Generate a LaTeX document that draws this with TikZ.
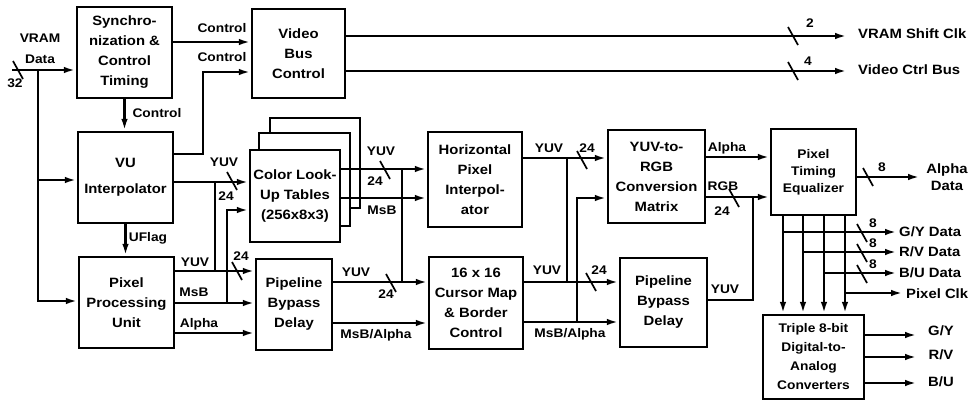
\documentclass[tikz,border=0pt]{standalone}
\usepackage{fontspec}
\setmainfont[FakeStretch=1.1]{Liberation Sans}
\usetikzlibrary{arrows.meta}
\begin{document}
\begin{tikzpicture}[x=1pt,y=-1pt,
  box/.style={draw,line width=2.5pt,fill=white,align=center,inner sep=0pt,
    font=\bfseries\fontsize{13.5}{20}\selectfont},
  lab/.style={font=\bfseries\fontsize{12.5}{14}\selectfont,inner sep=0pt},
  olab/.style={font=\bfseries\fontsize{13.5}{16}\selectfont,inner sep=0pt,anchor=west},
  ln/.style={line width=2.4pt},
  arr/.style={ln,-{Latex[length=12pt,width=6.5pt]}},
  sl/.style={line width=1.7pt}]
\useasboundingbox (0,0) rectangle (969,402);
\newcommand\bsl[1]{\draw[sl] (#1) ++(-5,-9) -- ++(10,18);}

% ---------- boxes ----------
\node[box,minimum width=95pt,minimum height=91pt] (sync) at (124.5,52.5) {Synchro-\\nization \&\\Control\\Timing};
\node[box,minimum width=93pt,minimum height=89pt] (vbc) at (298.5,53.5) {Video\\Bus\\Control};
\node[box,minimum width=95pt,minimum height=91pt] (vu) at (125.5,177.5) {VU\\[6pt]Interpolator};
\node[box,minimum width=95pt,minimum height=91pt] (ppu) at (126.5,302.5) {Pixel\\Processing\\Unit};
\draw[line width=2.5pt,fill=white] (270,118) rectangle (360,208);
\draw[line width=2.5pt,fill=white] (259,133) rectangle (350,226);
\node[box,minimum width=90pt,minimum height=92pt] (lut) at (295,196) {Color Look-\\Up Tables\\(256x8x3)};
\node[box,minimum width=76pt,minimum height=91pt] (pbd1) at (294,304.5) {Pipeline\\Bypass\\Delay};
\node[box,minimum width=94pt,minimum height=95pt] (hpi) at (475,179.5) {Horizontal\\Pixel\\Interpol-\\ator};
\node[box,minimum width=94pt,minimum height=92pt] (cur) at (476,303) {16 x 16\\Cursor Map\\\& Border\\Control};
\node[box,minimum width=97pt,minimum height=93pt] (rgb) at (656.5,176.5) {YUV-to-\\RGB\\Conversion\\Matrix};
\node[box,minimum width=87pt,minimum height=89pt] (pbd2) at (663.5,302.5) {Pipeline\\Bypass\\Delay};
\node[box,minimum width=85pt,minimum height=86pt,font=\bfseries\fontsize{12.5}{17}\selectfont] (pte) at (813.5,172) {Pixel\\Timing\\Equalizer};
\node[box,minimum width=101pt,minimum height=84pt,font=\bfseries\fontsize{12.5}{19}\selectfont] (dac) at (813.5,357) {Triple 8-bit\\Digital-to-\\Analog\\Converters};

% ---------- VRAM data input ----------
\coordinate (vin) at (12,70);
\coordinate (jv) at (38,70);
\coordinate (jv2) at (38,180);
\draw[arr] (vin) -- (sync.west |- vin);
\draw[arr] (jv) |- (ppu.west |- 0,301);
\draw[arr] (jv2) -- (vu.west |- jv2);
\bsl{18,70}
\node[lab] (lvram) at (40,38) {VRAM};
\node[lab] (ldata) at (40,59) {Data};
\node[lab] (l32) at (15,83) {32};

% ---------- control ----------
\draw[arr] (sync.east |- 0,42) -- (vbc.west |- 0,42);
\node[lab] (lc1) at (222,28) {Control};
\coordinate (c2) at (203,72);
\draw[arr] (vu.east |- 0,154) -| (c2) -- (vbc.west |- c2);
\node[lab] (lc2) at (222,57) {Control};
\draw[arr] (sync.south) -- (sync.south |- vu.north);
\node[lab] (lc3) at (157,113) {Control};

% ---------- video bus outputs ----------
\coordinate (o1) at (847,36);
\coordinate (o2) at (847,71);
\draw[arr] (vbc.east |- o1) -- (o1);
\draw[arr] (vbc.east |- o2) -- (o2);
\bsl{793,36}
\bsl{793,71}
\node[lab] (l2) at (810,23) {2};
\node[lab] (l4) at (808,61) {4};
\node[olab] (lvsc) at (858,34) {VRAM Shift Clk};
\node[olab] (lvcb) at (858,70) {Video Ctrl Bus};

% ---------- VU / PPU to LUT and bypass ----------
\draw[arr] (vu.east |- 0,182) -- (lut.west |- 0,182);
\bsl{232,181}
\node[lab] (ly1) at (224,162) {YUV};
\node[lab] (l241) at (226,196) {24};
\node[lab] (luf) at (148,238) {UFlag};
\draw[arr] (vu.south) -- (vu.south |- ppu.north);

\coordinate (j3a) at (215,271);
\coordinate (j3b) at (215,182);
\draw[arr] (ppu.east |- j3a) -- (pbd1.west |- j3a);
\draw[ln] (j3a) -- (j3b);
\node[lab] (ly2) at (195,262) {YUV};
\bsl{237,271}
\node[lab] (l242) at (241,256) {24};

\coordinate (jm) at (227,303);
\draw[arr] (ppu.east |- jm) -- (pbd1.west |- jm);
\draw[arr] (jm) |- (lut.west |- 0,210);
\node[lab] (lmsb1) at (194,292) {MsB};
\draw[arr] (ppu.east |- 0,333) -- (pbd1.west |- 0,333);
\node[lab] (lal1) at (199,324) {Alpha};

% ---------- LUT outputs ----------
\draw[arr] (lut.east |- 0,169) -- (hpi.west |- 0,169);
\bsl{385,170}
\node[lab] (ly3) at (381,151) {YUV};
\node[lab] (l243) at (375,181) {24};
\draw[arr] (lut.east |- 0,198) -- (hpi.west |- 0,198);
\node[lab] (lmsb2) at (382,210) {MsB};
\coordinate (j4a) at (402,169);
\coordinate (j4b) at (402,282);
\draw[ln] (j4a) -- (j4b);

% ---------- bypass 1 outputs ----------
\draw[arr] (pbd1.east |- j4b) -- (cur.west |- j4b);
\bsl{391,283}
\node[lab] (ly4) at (356,272) {YUV};
\node[lab] (l244) at (386,294) {24};
\draw[arr] (pbd1.east |- 0,323) -- (cur.west |- 0,323);
\node[lab] (lma1) at (376,335) {MsB/Alpha};

% ---------- HPI / cursor outputs ----------
\draw[arr] (hpi.east |- 0,158) -- (rgb.west |- 0,158);
\bsl{582,160}
\node[lab] (ly5) at (549,148) {YUV};
\node[lab] (l245) at (587,148) {24};
\coordinate (j5a) at (567,158);
\coordinate (j5b) at (567,282);
\draw[ln] (j5a) -- (j5b);
\draw[arr] (cur.east |- j5b) -- (pbd2.west |- j5b);
\node[lab] (ly6) at (547,270) {YUV};
\bsl{591,282}
\node[lab] (l246) at (599,270) {24};
\coordinate (j6) at (577,322);
\draw[arr] (cur.east |- j6) -- (pbd2.west |- j6);
\draw[arr] (j6) |- (rgb.west |- 0,198);
\node[lab] (lma2) at (570,334) {MsB/Alpha};

% ---------- RGB matrix outputs ----------
\draw[arr] (rgb.east |- 0,157) -- (pte.west |- 0,157);
\node[lab] (lal2) at (727,148) {Alpha};
\coordinate (j7) at (753,197);
\draw[arr] (rgb.east |- j7) -- (pte.west |- j7);
\bsl{734,198}
\node[lab] (lrgb) at (723,186) {RGB};
\node[lab] (l247) at (722,211) {24};
\draw[ln] (pbd2.east |- 0,300) -| (j7);
\node[lab] (ly7) at (725,289) {YUV};

% ---------- timing equalizer outputs ----------
\coordinate (oa) at (920,177);
\draw[arr] (pte.east |- oa) -- (oa);
\bsl{868,177}
\node[lab] (l8a) at (882,167) {8};
\node[olab,anchor=center,align=center,font=\bfseries\fontsize{13.5}{17}\selectfont] (lad) at (947,177) {Alpha\\Data};

\foreach \xx in {783,803,824,845}
  \draw[arr] (pte.south -| \xx,0) -- (dac.north -| \xx,0);

\coordinate (g1) at (783,232); \coordinate (g2) at (897,232);
\coordinate (r1) at (803,252); \coordinate (r2) at (897,252);
\coordinate (b1) at (824,273); \coordinate (b2) at (897,273);
\coordinate (p1) at (845,293); \coordinate (p2) at (903,293);
\draw[arr] (g1) -- (g2);
\draw[arr] (r1) -- (r2);
\draw[arr] (b1) -- (b2);
\draw[arr] (p1) -- (p2);
\bsl{862,233}
\bsl{862,253}
\bsl{862,274}
\node[lab] (l8g) at (873,223) {8};
\node[lab] (l8r) at (873,243) {8};
\node[lab] (l8b) at (873,264) {8};
\node[olab] (lgyd) at (899,232) {G/Y Data};
\node[olab] (lrvd) at (899,252) {R/V Data};
\node[olab] (lbud) at (899,273) {B/U Data};
\node[olab] (lpc) at (906,294) {Pixel Clk};

% ---------- DAC outputs ----------
\coordinate (d1) at (917,335);
\coordinate (d2) at (917,357);
\coordinate (d3) at (917,383);
\draw[arr] (dac.east |- d1) -- (d1);
\draw[arr] (dac.east |- d2) -- (d2);
\draw[arr] (dac.east |- d3) -- (d3);
\node[olab,anchor=center] (lgy) at (941,331) {G/Y};
\node[olab,anchor=center] (lrv) at (941,355) {R/V};
\node[olab,anchor=center] (lbu) at (941,382) {B/U};
\end{tikzpicture}
\end{document}
